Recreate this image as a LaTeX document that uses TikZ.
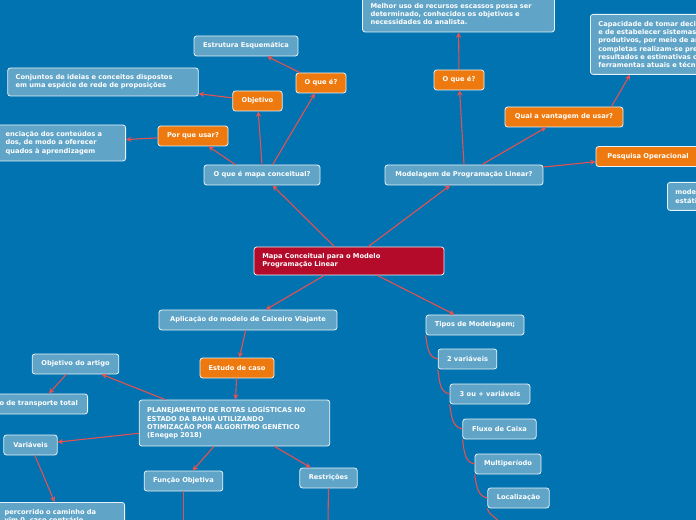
\documentclass[tikz,border=0pt]{standalone}
\usepackage{fontspec}
\setmainfont{DejaVu Sans}
\usepackage{tikz}
\usetikzlibrary{arrows.meta,positioning}

\definecolor{bgblue}{HTML}{0173B1}
\definecolor{boxblue}{HTML}{60A5C8}
\definecolor{boxorange}{HTML}{EE7A0F}
\definecolor{boxred}{HTML}{B30B29}
\definecolor{linkred}{HTML}{E8514F}

\tikzset{
  topic/.style={rectangle,rounded corners=2pt,draw=white!85!boxblue,line width=0.6pt,
    fill=boxblue,text=white,inner sep=0pt,
    font=\fontsize{5}{6.2}\selectfont\bfseries},
  question/.style={topic,fill=boxorange},
  rootbox/.style={topic,fill=boxred},
  textbox/.style={topic,align=left,inner xsep=6pt},
  link/.style={draw=linkred,line width=0.8pt,-{Stealth[length=4pt,width=4pt]}},
  plainlink/.style={draw=linkred,line width=0.8pt}
}

\begin{document}
\begin{tikzpicture}[x=0.75pt,y=-0.75pt]
  \fill[bgblue] (0,0) rectangle (696,520);
  \useasboundingbox (0,0) rectangle (696,520);

  % root
  \node[rootbox,minimum width=142.5pt,minimum height=21pt,text width=130pt,align=left] (root) at (349,261)
    {Mapa Conceitual para o Modelo\\Programação Linear};

  % mapa conceitual branch
  \node[topic,minimum width=87pt,minimum height=15pt] (mapa) at (262,175) {O que é mapa conceitual?};
  \node[question,minimum width=52.5pt,minimum height=15pt] (porque) at (193,136) {Por que usar?};
  \node[question,minimum width=37pt,minimum height=15pt] (objetivo) at (257.5,101) {Objetivo};
  \node[question,minimum width=37.5pt,minimum height=15pt] (oquee) at (321,83) {O que é?};
  \node[topic,minimum width=78pt,minimum height=15pt] (estrutura) at (246,46) {Estrutura Esquemática};
  \node[textbox,minimum width=142.5pt,minimum height=21pt,text width=131pt] (conjuntos) at (103,82)
    {Conjuntos de ideias e conceitos dispostos\\em uma espécie de rede de proposições};
  \node[textbox,anchor=east,minimum height=27pt,text width=84pt] (aprend) at (126,143)
    {enciação dos conteúdos a\\dos, de modo a oferecer\\quados à aprendizagem};

  % modelagem branch
  \node[topic,minimum width=118.5pt,minimum height=15pt] (modelagem) at (464,175) {Modelagem de Programação Linear?};
  \node[question,minimum width=37.5pt,minimum height=15pt] (oquee2) at (459,80) {O que é?};
  \node[textbox,minimum width=143pt,minimum height=27pt,text width=132pt] (melhor) at (458.5,14)
    {Melhor uso de recursos escassos possa ser\\determinado, conhecidos os objetivos e\\necessidades do analista.};
  \node[question,minimum width=88.5pt,minimum height=15pt] (vantagem) at (564,117) {Qual a vantagem de usar?};
  \node[textbox,anchor=north west,minimum height=45pt,text width=120pt] (capacidade) at (590,14)
    {Capacidade de tomar decisões\\e de estabelecer sistemas\\produtivos, por meio de análises\\completas realizam-se previsões de\\resultados e estimativas com\\ferramentas atuais e técnicas};
  \node[question,minimum width=78pt,minimum height=15pt] (pesquisa) at (648,156.5) {Pesquisa Operacional};
  \node[textbox,anchor=north west,minimum height=21pt,text width=40pt] (mode) at (667,182)
    {modelos\\estáticos};

  % caixeiro viajante branch
  \node[topic,minimum width=133.5pt,minimum height=15pt] (aplicacao) at (248,320) {Aplicação do modelo de Caixeiro Viajante};
  \node[question,minimum width=55.5pt,minimum height=15pt] (estudo) at (237,368) {Estudo de caso};
  \node[textbox,minimum width=143pt,minimum height=34.5pt,text width=131pt] (planej) at (234.5,423)
    {PLANEJAMENTO DE ROTAS LOGÍSTICAS NO\\ESTADO DA BAHIA UTILIZANDO\\OTIMIZAÇÃO POR ALGORITMO GENÉTICO\\(Enegep 2018)};
  \node[topic,minimum width=65pt,minimum height=15pt] (objartigo) at (75.5,364) {Objetivo do artigo};
  \node[textbox,anchor=east,minimum height=15pt,text width=60pt] (transporte) at (88,404) {o de transporte total};
  \node[topic,minimum width=40pt,minimum height=15pt] (variaveis) at (30.5,445) {Variáveis};
  \node[textbox,anchor=north east,minimum height=21pt,text width=84pt] (percorrido) at (125,502)
    {percorrido o caminho da\\vim 0, caso contrário};
  \node[topic,minimum width=59pt,minimum height=15pt] (funcao) at (183.5,481) {Função Objetiva};
  \node[topic,minimum width=43pt,minimum height=15pt] (restricoes) at (328.5,478) {Restrições};
  \coordinate (funcaoend) at (183.5,530);
  \coordinate (restend) at (328,530);

  % tipos de modelagem
  \node[topic,minimum width=73.5pt,minimum height=15pt] (tipos) at (475,325) {Tipos de Modelagem;};
  \node[topic,minimum width=44pt,minimum height=15pt] (duas) at (467.5,359) {2 variáveis};
  \node[topic,minimum width=60pt,minimum height=15pt] (tres) at (490,394) {3 ou + variáveis};
  \node[topic,minimum width=55pt,minimum height=15pt] (fluxo) at (499.5,429) {Fluxo de Caixa};
  \node[topic,minimum width=49.5pt,minimum height=15pt] (multi) at (508,464) {Multiperíodo};
  \node[topic,minimum width=46pt,minimum height=15pt] (local) at (518.5,498) {Localização};
  \coordinate (tiposend) at (500,525);

  % links
  \draw[link] (root) -- (mapa);
  \draw[link] (root) -- (modelagem);
  \draw[link] (root) -- (aplicacao);
  \draw[link] (root) -- (tipos);
  \draw[link] ([xshift=-20pt]mapa.north) -- (porque);
  \draw[link] (mapa.north) -- (objetivo);
  \draw[link] ([xshift=8pt]mapa.north) -- (oquee);
  \draw[link] (oquee) -- (estrutura);
  \draw[link] (objetivo) -- (conjuntos);
  \draw[link] (porque) -- (aprend);
  \draw[link] (modelagem.north) -- (oquee2);
  \draw[link] (oquee2) -- (melhor);
  \draw[link] (modelagem) -- (vantagem);
  \draw[link] ([xshift=-9pt]vantagem.north east) -- ([xshift=30pt]capacidade.south west);
  \draw[link] (modelagem) -- (pesquisa);
  \draw[plainlink] (pesquisa.south east) -- ++(15pt,-6pt);
  \draw[link] (aplicacao) -- (estudo);
  \draw[link] (estudo) -- (planej);
  \draw[link] ([xshift=-52pt]planej.north) -- (objartigo);
  \draw[link] (objartigo) -- (transporte);
  \draw[link] (planej) -- (variaveis);
  \draw[link] (variaveis) -- (percorrido);
  \draw[link] (planej) -- (funcao);
  \draw[link] (planej) -- (restricoes);
  \draw[plainlink] (funcao) -- (funcaoend);
  \draw[plainlink] (restricoes) -- (restend);
  \draw[plainlink] (tipos.south west) to[out=-80,in=170] (duas.west)
    (duas.south west) to[out=-80,in=170] (tres.west)
    (tres.south west) to[out=-80,in=170] (fluxo.west)
    (fluxo.south west) to[out=-80,in=170] (multi.west)
    (multi.south west) to[out=-80,in=170] (local.west)
    (local.south west) to[out=-80,in=100] (tiposend);
\end{tikzpicture}
\end{document}
